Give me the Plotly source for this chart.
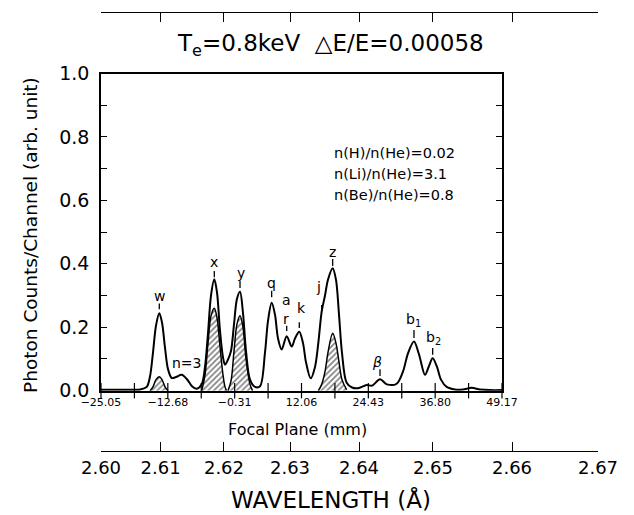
import plotly.graph_objects as go

# ---------------- data ----------------
focal_mm = [-25.05, -21.53, -17.83, -16.59, -15.98, -15.43, -14.87, -14.26, -13.76, -13.20,
            -12.65, -11.96, -11.17, -10.11, -9.13, -8.21, -7.34, -6.41, -5.80, -5.25,
            -4.69, -4.08, -3.58, -3.03, -2.47, -2.10, -1.55, -0.99, -0.43, 0.12,
            0.68, 1.23, 1.79, 2.53, 3.45, 4.38, 5.30, 5.86, 6.54, 7.15,
            7.71, 8.39, 9.32, 10.25, 10.86, 11.65, 12.34, 12.89, 13.76, 14.56,
            15.17, 15.80, 16.41, 16.96, 17.83, 18.44, 19.00, 19.55, 20.42, 21.41,
            22.52, 24.13, 25.11, 26.59, 27.88, 29.68, 30.84, 31.77, 32.88, 33.80,
            34.92, 35.66, 36.34, 37.14, 37.88, 38.93, 40.47, 41.95, 43.56, 45.10,
            46.95, 49.17]
total_counts = [0.003, 0.003, 0.004, 0.012, 0.045, 0.12, 0.205, 0.244, 0.215, 0.135,
                0.068, 0.040, 0.043, 0.050, 0.036, 0.014, 0.006, 0.02, 0.075, 0.18,
                0.30, 0.351, 0.31, 0.19, 0.105, 0.082, 0.098, 0.125, 0.21, 0.29,
                0.312, 0.245, 0.125, 0.035, 0.012, 0.014, 0.12, 0.22, 0.277, 0.24,
                0.165, 0.13, 0.172, 0.139, 0.165, 0.186, 0.15, 0.09, 0.039, 0.075,
                0.15, 0.25, 0.30, 0.35, 0.386, 0.35, 0.24, 0.12, 0.025, 0.01,
                0.008, 0.018, 0.016, 0.036, 0.02, 0.022, 0.06, 0.118, 0.155, 0.115,
                0.05, 0.078, 0.102, 0.075, 0.035, 0.012, 0.004, 0.004, 0.009, 0.004,
                0.002, 0.002]

# hatched (shaded) components
w_mm = [-15.98, -15.43, -14.87, -14.26, -13.76, -13.20, -12.65]
w_val = [0.0, 0.012, 0.035, 0.044, 0.035, 0.012, 0.0]
x_mm = [-6.41, -5.80, -5.25, -4.69, -4.08, -3.58, -3.03, -2.47, -2.10, -1.80]
x_val = [0.0, 0.05, 0.15, 0.235, 0.26, 0.23, 0.14, 0.05, 0.012, 0.0]
y_mm = [-1.55, -0.99, -0.43, 0.12, 0.68, 1.23, 1.79, 2.53, 3.00]
y_val = [0.0, 0.03, 0.125, 0.21, 0.236, 0.20, 0.10, 0.02, 0.0]
z_mm = [15.17, 15.80, 16.41, 16.96, 17.83, 18.44, 19.00, 19.55, 20.42]
z_val = [0.0, 0.02, 0.06, 0.12, 0.181, 0.15, 0.09, 0.035, 0.003]

# peak labels
label_text = ["w", "n=3", "x", "y", "q", "a", "r", "k", "j", "z", "<i>β</i>", "b<sub>1</sub>", "b<sub>2</sub>"]
label_x = [-14.26, -9.19, -4.08, 0.80, 6.54, 9.2, 9.1, 12.10, 15.17, 17.83, 26.09, 32.75, 36.45]
label_y = [0.300, 0.086, 0.406, 0.371, 0.340, 0.287, 0.226, 0.261, 0.328, 0.437, 0.091, 0.223, 0.165]
mark_x = [-14.26, -4.08, 0.68, 6.54, 9.32, 11.65, 15.80, 17.83, 26.59, 32.88, 36.34]
mark_top = [0.275, 0.377, 0.346, 0.315, 0.205, 0.216, 0.270, 0.415, 0.068, 0.191, 0.135]
mark_bot = [0.257, 0.358, 0.324, 0.295, 0.188, 0.198, 0.251, 0.393, 0.046, 0.166, 0.113]

# axes
focal_ticks = [-25.05, -18.865, -12.68, -6.495, -0.31, 5.875, 12.06, 18.245, 24.43, 30.615, 36.80, 42.985, 49.17]
focal_tick_text = ["−25.05", "", "−12.68", "", "−0.31", "", "12.06", "", "24.43", "", "36.80", "", "49.17"]
count_ticks = [0.0, 0.1, 0.2, 0.3, 0.4, 0.5, 0.6, 0.7, 0.8, 0.9, 1.0]
count_tick_text = ["0.0", "", "0.2", "", "0.4", "", "0.6", "", "0.8", "", "1.0"]
wavelength_labels = ["2.60", "2.61", "2.62", "2.63", "2.64", "2.65", "2.66", "2.67"]
wavelength_tick_mm = [-25.05, -14.02, -2.29, 9.93, 22.70, 36.39, 51.02, 66.93]
ratio_lines = ["n(H)/n(He)=0.02", "n(Li)/n(He)=3.1", "n(Be)/n(He)=0.8"]

# ---------------- figure ----------------
OFF = 8                      # the page body margin
W, H = 634 - OFF, 515 - OFF
FONT = "DejaVu Sans"
px = lambda v: (v - OFF) / W
py = lambda v: 1 - (v - OFF) / H

fig = go.Figure()

hatch = dict(shape="/", fgcolor="black", bgcolor="white", size=4, solidity=0.4)
for xs, ys in [(w_mm, w_val), (x_mm, x_val), (y_mm, y_val), (z_mm, z_val)]:
    fig.add_trace(go.Scatter(x=xs, y=ys, mode="lines", fill="tozeroy", fillpattern=hatch,
                             line=dict(color="black", width=1.5, shape="spline"),
                             hoverinfo="skip", showlegend=False))

fig.add_trace(go.Scatter(x=focal_mm, y=total_counts, mode="lines",
                         line=dict(color="black", width=2, shape="spline", smoothing=0.9),
                         hoverinfo="skip", showlegend=False))

# label marks
mx, my = [], []
for xv, t, b in zip(mark_x, mark_top, mark_bot):
    mx += [xv, xv, None]
    my += [t, b, None]
fig.add_trace(go.Scatter(x=mx, y=my, mode="lines", line=dict(color="black", width=1.3),
                         hoverinfo="skip", showlegend=False))

# crossing ticks on the focal-plane axis
fig.add_trace(go.Scatter(x=focal_ticks, y=[0] * len(focal_ticks), mode="markers", cliponaxis=False,
                         marker=dict(symbol="line-ns-open", size=11, color="black",
                                     line=dict(color="black", width=1.2)),
                         hoverinfo="skip", showlegend=False))

for t, xv, yv in zip(label_text, label_x, label_y):
    fig.add_annotation(x=xv, y=yv, text=t, showarrow=False, xref="x", yref="y",
                       xanchor="center", yanchor="middle",
                       font=dict(family=FONT, size=14, color="black"))

# helper traces for the wavelength axes
fig.add_trace(go.Scatter(x=wavelength_tick_mm, y=[0.5] * len(wavelength_tick_mm), xaxis="x2", yaxis="y2",
                         mode="markers", marker=dict(opacity=0), hoverinfo="skip", showlegend=False))
fig.add_trace(go.Scatter(x=wavelength_tick_mm, y=[0.5] * len(wavelength_tick_mm), xaxis="x3", yaxis="y3",
                         mode="markers", marker=dict(opacity=0), hoverinfo="skip", showlegend=False))

xdom = [px(101), px(502)]
wdom = [px(101), px(598)]
wrange = [wavelength_tick_mm[0], wavelength_tick_mm[-1]]

fig.update_layout(
    width=W, height=H, margin=dict(l=0, r=0, t=0, b=0, autoexpand=False),
    paper_bgcolor="white", plot_bgcolor="rgba(0,0,0,0)",
    font=dict(family=FONT, color="black"),
    xaxis=dict(domain=xdom, range=[-25.05, 49.17], tickvals=focal_ticks, ticktext=focal_tick_text,
               ticks="", showline=True, linecolor="black", linewidth=1.5, mirror=True, automargin=False,
               showgrid=False, zeroline=False, tickfont=dict(size=11), anchor="y"),
    yaxis=dict(domain=[py(390.7), py(73.5)], range=[0, 1.0], tickvals=count_ticks, ticktext=count_tick_text,
               ticks="inside", ticklen=6, tickwidth=1.2, tickcolor="black", automargin=False,
               ticklabelstandoff=6,
               showline=True, linecolor="black", linewidth=1.5, mirror="ticks",
               showgrid=False, zeroline=False, tickfont=dict(size=19), anchor="x"),
    xaxis2=dict(domain=wdom, range=wrange, anchor="y2", side="bottom", automargin=False,
                tickvals=wavelength_tick_mm, ticktext=wavelength_labels, ticks="inside", ticklen=9,
                tickwidth=1.2, tickcolor="black", showline=True, linecolor="black", linewidth=1.3,
                showgrid=False, zeroline=False, tickfont=dict(size=18)),
    yaxis2=dict(domain=[py(451), py(441)], range=[0, 1], visible=False, anchor="x2", automargin=False),
    xaxis3=dict(domain=wdom, range=wrange, anchor="y3", side="top", automargin=False,
                tickvals=wavelength_tick_mm, ticks="inside", ticklen=9, tickwidth=1.2, tickcolor="black",
                showticklabels=False, showline=True, linecolor="black", linewidth=1.3,
                showgrid=False, zeroline=False),
    yaxis3=dict(domain=[py(23), py(13)], range=[0, 1], visible=False, anchor="x3", automargin=False),
)

# texts
def note(x, y, text, size, **kw):
    fig.add_annotation(xref="paper", yref="paper", x=px(x), y=py(y), showarrow=False,
                       xanchor=kw.pop("xanchor", "center"), yanchor=kw.pop("yanchor", "middle"),
                       text=text, font=dict(size=size), **kw)

note(330, 45, "T<sub>e</sub>=0.8keV  △E/E=0.00058", 23)
note(30, 235, "Photon Counts/Channel (arb. unit)", 18.5, textangle=-90)
note(297, 429, "Focal Plane (mm)", 16)
note(331, 499, "WAVELENGTH (Å)", 23)
for i, line in enumerate(ratio_lines):
    note(332, 153 + 21 * i, line, 14.5, xanchor="left")

fig.write_html("out.html")
